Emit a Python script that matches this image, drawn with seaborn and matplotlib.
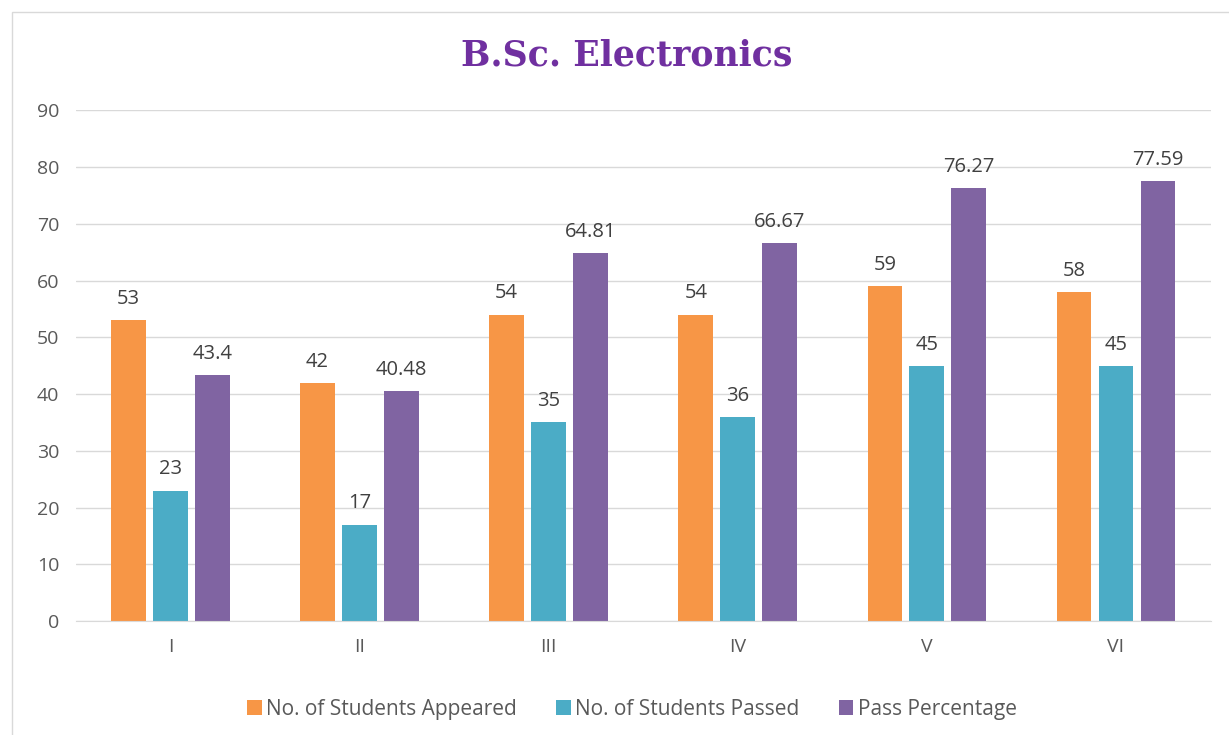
import pandas as pd
import matplotlib.pyplot as plt
import seaborn as sns
from matplotlib.patches import Rectangle

# Chart data
semesters = ['I', 'II', 'III', 'IV', 'V', 'VI']
appeared = [53, 42, 54, 54, 59, 58]
passed = [23, 17, 35, 36, 45, 45]
pass_pct = [43.4, 40.48, 64.81, 66.67, 76.27, 77.59]
series_names = ['No. of Students Appeared', 'No. of Students Passed', 'Pass Percentage']
colors = ['#F79646', '#4BACC6', '#8064A2']

df = pd.DataFrame({'semester': semesters,
                   series_names[0]: appeared,
                   series_names[1]: passed,
                   series_names[2]: pass_pct})
long_df = df.melt(id_vars='semester', var_name='series', value_name='value')

sns.set_style('white')
plt.rcParams['font.family'] = ['Open Sans', 'DejaVu Sans']

fig = plt.figure(figsize=(12.29, 7.35), dpi=100)
ax = fig.add_axes([0.0618, 0.155, 0.9232, 0.695])

sns.barplot(data=long_df, x='semester', y='value', hue='series', order=semesters,
            hue_order=series_names, palette=colors, width=0.666, gap=0.17,
            saturation=1, ax=ax, errorbar=None, linewidth=0)

for cont in ax.containers:
    ax.bar_label(cont, labels=[f'{v:g}' for v in cont.datavalues],
                 padding=8, fontsize=14.5, color='#404040')

ax.set_ylim(0, 90)
ax.set_yticks(range(0, 91, 10))
ax.set_xlim(-0.5, 5.5)
ax.yaxis.grid(True, color='#D9D9D9', linewidth=1)
ax.set_axisbelow(True)
for s in ['top', 'right', 'left']:
    ax.spines[s].set_visible(False)
ax.spines['bottom'].set_color('#D9D9D9')
ax.tick_params(axis='both', labelsize=14, colors='#595959', length=0, pad=12)
ax.set_xlabel('')
ax.set_ylabel('')

ax.legend(loc='upper center', bbox_to_anchor=(0.49, -0.115), ncol=3, frameon=False,
          fontsize=15, labelcolor='#595959', handlelength=0.7, handleheight=0.7,
          handletextpad=0.2, columnspacing=1.9)

fig.text(0.51, 0.925, 'B.Sc. Electronics', ha='center', va='center',
         fontsize=25, fontweight='bold', color='#7030A0', family='DejaVu Serif')

fig.patches.append(Rectangle((12 / 1229, -0.01), 1.0, 1 - 12 / 735 + 0.01,
                             transform=fig.transFigure, fill=False,
                             edgecolor='#D9D9D9', linewidth=1))

fig.savefig('out.png', dpi=100)
